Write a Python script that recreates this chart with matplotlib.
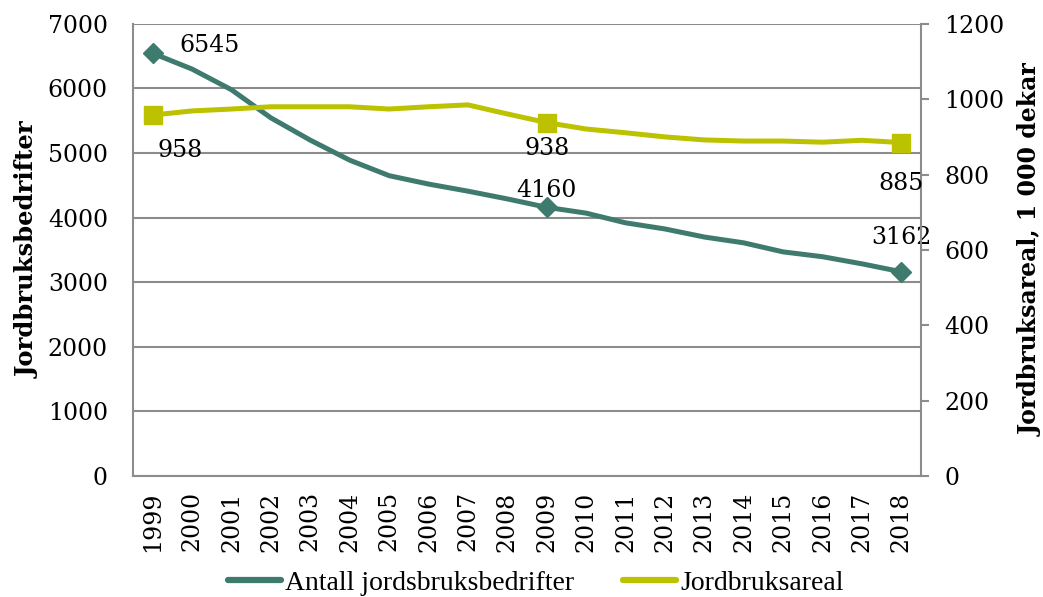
import matplotlib
matplotlib.use("Agg")
import matplotlib.pyplot as plt
import numpy as np

years = [str(y) for y in range(1999, 2019)]
bedrifter = [6545, 6300, 5980, 5545, 5200, 4890, 4650, 4520, 4410, 4290,
             4160, 4070, 3920, 3825, 3700, 3610, 3470, 3395, 3285, 3162]
areal = [958, 969, 974, 980, 980, 980, 974, 980, 985, 961,
         938, 921, 911, 900, 892, 889, 889, 886, 891, 885]
label_idx = [0, 10, 19]

teal = "#3F7A6E"
olive = "#BCC200"
grid = "#8C8C8C"
font = "DejaVu Serif"

plt.rcParams['font.family'] = font

fig = plt.figure(figsize=(10.43, 5.97), dpi=100)
ax = fig.add_axes([0.1275, 0.2027, 0.7555, 0.7573])
ax2 = ax.twinx()

x = np.arange(len(years))
ax.plot(x, bedrifter, color=teal, lw=3.6, zorder=3, label="Antall jordsbruksbedrifter",
        solid_capstyle="round")
ax.plot(x[label_idx], np.array(bedrifter)[label_idx], ls="none", marker="D",
        ms=10, color=teal, zorder=4)
ax2.plot(x, areal, color=olive, lw=3.6, zorder=3, label="Jordbruksareal",
         solid_capstyle="round")
ax2.plot(x[label_idx], np.array(areal)[label_idx], ls="none", marker="s",
         ms=13, color=olive, zorder=4)

ax.set_xlim(-0.5, len(years) - 0.5)
ax.set_ylim(0, 7000)
ax2.set_ylim(0, 1200)
ax.set_yticks(range(0, 7001, 1000))
ax2.set_yticks(range(0, 1201, 200))
ax.set_xticks(x)
ax.set_xticklabels(years, rotation=90)

ax.yaxis.grid(True, color=grid, lw=1.5)
ax.set_axisbelow(True)
for a in (ax, ax2):
    for s in a.spines.values():
        s.set_color(grid)
        s.set_linewidth(1.5)
    a.spines['top'].set_visible(False)
ax.spines['right'].set_visible(False)
ax2.spines['left'].set_visible(False)
ax2.spines['bottom'].set_visible(False)

ax.tick_params(axis='y', length=0, pad=18, labelsize=17)
ax.tick_params(axis='x', length=0, pad=11, labelsize=17)
ax2.tick_params(axis='y', length=6, width=1.5, color=grid, pad=11, labelsize=17)

ax.set_ylabel("Jordbruksbedrifter", fontsize=17.5, fontweight="bold", labelpad=6)
ax2.set_ylabel("Jordbruksareal, 1 000 dekar", fontsize=17, fontweight="bold",
               labelpad=10)

# data labels
offs_b = [(57, 8), (0, 17), (0, 34)]
offs_a = [(27, -35), (0, -26), (0, -41)]
for i, ob, oa in zip(label_idx, offs_b, offs_a):
    ax.annotate(str(bedrifter[i]), (x[i], bedrifter[i]), xytext=ob,
                textcoords="offset pixels", ha="center", va="center",
                fontsize=17, zorder=5)
    ax2.annotate(str(areal[i]), (x[i], areal[i]), xytext=oa,
                 textcoords="offset pixels", ha="center", va="center",
                 fontsize=17, zorder=5)

h1, l1 = ax.get_legend_handles_labels()
h2, l2 = ax2.get_legend_handles_labels()
leg = fig.legend(h1 + h2, l1 + l2, loc="center", bbox_to_anchor=(536 / 1043, 1 - 583 / 597),
                 ncol=2, frameon=False, handlelength=1.9, columnspacing=1.75,
                 handletextpad=0.15, borderpad=0,
                 prop={'family': 'Liberation Serif', 'size': 20})
for ln in leg.get_lines():
    ln.set_linewidth(4.5)

fig.savefig("out.png", dpi=100)
